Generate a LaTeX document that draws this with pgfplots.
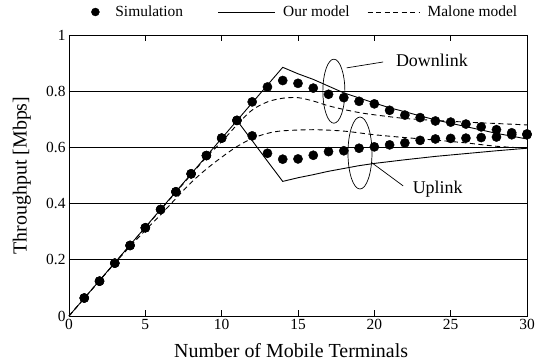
\documentclass[border=0pt]{standalone}
\usepackage{fontspec}
\setmainfont{Liberation Serif}
\usepackage{pgfplots}
\pgfplotsset{compat=1.18}

% simulation: n, downlink, uplink
\pgfplotstableread{
n   down   up
1   0.064  0.064
2   0.124  0.124
3   0.188  0.188
4   0.251  0.251
5   0.314  0.314
6   0.379  0.379
7   0.442  0.442
8   0.506  0.506
9   0.571  0.571
10  0.633  0.633
11  0.696  0.696
12  0.762  0.641
13  0.815  0.579
14  0.838  0.558
15  0.828  0.559
16  0.811  0.572
17  0.789  0.585
18  0.777  0.588
19  0.764  0.597
20  0.755  0.602
21  0.732  0.609
22  0.715  0.616
23  0.706  0.625
24  0.694  0.630
25  0.690  0.632
26  0.683  0.633
27  0.673  0.635
28  0.663  0.637
29  0.652  0.645
30  0.648  0.645
}\simdata

\begin{document}
\begin{tikzpicture}
\begin{axis}[
    name=ax,
    scale only axis,
    width=458bp, height=281bp,
    xmin=0, xmax=30, ymin=0, ymax=1,
    xtick={0,5,...,30},
    ytick={0,0.2,0.4,0.6,0.8,1},
    tick pos=both,
    tick align=inside,
    major tick length=6bp,
    ymajorgrids,
    major grid style={black, line width=0.7pt},
    axis line style={black, line width=0.9pt},
    every tick/.style={black, line width=0.7pt},
    clip=false,
    /pgf/number format/assume math mode=true,
    tick label style={font=\fontsize{15.5}{17}\selectfont},
    xlabel={Number of Mobile Terminals},
    ylabel={Throughput [Mbps]},
    label style={font=\fontsize{20}{22}\selectfont},
    xlabel style={at={(axis description cs:0.485,-0.122)}, anchor=center},
    ylabel style={at={(axis description cs:-0.103,0.5)}, anchor=center},
    legend columns=3,
    legend style={at={(0,1)}, anchor=west, xshift=22bp, yshift=23bp,
        draw=none, fill=none, inner sep=0pt,
        nodes={inner sep=0pt},
        font=\fontsize{15.5}{17}\selectfont,
        /tikz/column sep=0pt},
]
% simulation points
\addplot[only marks, mark=*, mark size=4.6bp, black,
    legend image code/.code={\path[draw=none, fill=none] (-4bp,0) -- (20bp,0); \fill[black] (0,0) circle (4bp);}]
    table[x=n, y=down] {\simdata};
\addlegendentry{Simulation}
\addplot[only marks, mark=*, mark size=4.6bp, black, forget plot]
    table[x=n, y=up] {\simdata};

% our model
\addplot[black, line width=0.9pt,
    legend image code/.code={\path[draw=none] (0,0) -- (100bp,0); \draw[black, line width=0.9pt] (35bp,0) -- (92bp,0);}]
    coordinates {(0,0) (14,0.885) (15,0.862) (16,0.842) (17,0.818) (18,0.794)
    (19,0.776) (20,0.758) (21,0.741) (22,0.727) (23,0.712) (24,0.698) (25,0.686)
    (26,0.674) (27,0.662) (28,0.650) (29,0.640) (30,0.630)};
\addlegendentry{Our model}
\addplot[black, line width=0.9pt, forget plot]
    coordinates {(11,0.696) (12,0.624) (13,0.551) (14,0.479) (15,0.492) (16,0.503)
    (17,0.515) (18,0.525) (19,0.535) (20,0.543) (22,0.556) (24,0.568) (26,0.578)
    (28,0.588) (30,0.597)};

% Malone model
\addplot[black, line width=0.9pt, dash pattern=on 5bp off 3.5bp, smooth,
    legend image code/.code={\path[draw=none] (0,0) -- (78bp,0); \draw[black, line width=0.9pt, dash pattern=on 5bp off 3.5bp] (18bp,0) -- (70bp,0);}]
    coordinates {(0,0) (5,0.315) (7,0.44) (9,0.565) (10,0.62) (11,0.68) (12,0.733)
    (13,0.762) (14,0.775) (15,0.777) (16,0.765) (17,0.748) (18,0.735) (19,0.724)
    (20,0.716) (22,0.703) (24,0.696) (26,0.690) (28,0.685) (30,0.680)};
\addlegendentry{Malone model}
\addplot[black, line width=0.9pt, dash pattern=on 5bp off 3.5bp, smooth, forget plot]
    coordinates {(0,0) (3,0.188) (5,0.305) (6,0.36) (7,0.418) (8,0.475) (9,0.523)
    (10,0.565) (11,0.603) (12,0.632) (13,0.65) (14,0.659) (16,0.663) (18,0.658)
    (20,0.645) (22,0.635) (24,0.626) (26,0.616) (28,0.604) (30,0.597)};

% annotations
\draw[black, line width=0.7pt] (axis cs:17.35,0.80) ellipse [x radius=11bp, y radius=32bp];
\draw[black, line width=0.7pt] (axis cs:18.19,0.883) -- (axis cs:20.58,0.904);
\node[font=\fontsize{18}{20}\selectfont] at (axis cs:23.77,0.908) {Downlink};
\draw[black, line width=0.7pt] (axis cs:19.06,0.58) ellipse [x radius=12bp, y radius=36bp];
\draw[black, line width=0.7pt] (axis cs:19.82,0.546) -- (axis cs:21.89,0.463);
\node[font=\fontsize{18}{20}\selectfont] at (axis cs:24.15,0.453) {Uplink};
\end{axis}
\pgfresetboundingbox
\path[use as bounding box] ([shift={(-69bp,-45bp)}]ax.south west) rectangle ([shift={(8bp,35bp)}]ax.north east);
\end{tikzpicture}
\end{document}
